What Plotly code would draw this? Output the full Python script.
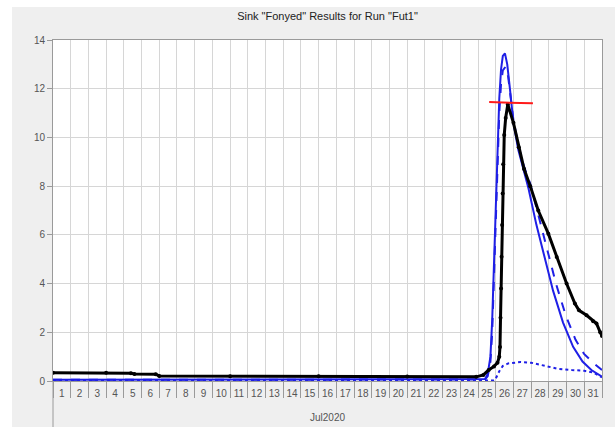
import pandas as pd
import plotly.graph_objects as go

START = pd.Timestamp("2020-07-01")

# Observed flow (days after 01Jul2020 00:00, flow)
obs_days = [0.0, 3.0, 4.4, 4.6, 5.8, 6.0, 10.0, 15.0, 20.0, 23.9, 24.3, 24.6, 24.9, 25.1,
            25.20, 25.24, 25.27, 25.30, 25.33, 25.36, 25.39, 25.42, 25.48, 25.56, 25.68,
            26.0, 26.3, 26.6, 26.95, 27.4, 27.97, 28.44, 29.0, 29.47, 29.7, 30.13, 30.5,
            30.69, 30.9, 31.0]
obs_flow = [0.34, 0.34, 0.32, 0.29, 0.28, 0.21, 0.20, 0.19, 0.18, 0.17, 0.25, 0.45, 0.60, 0.75,
            1.0, 1.4, 2.6, 3.8, 5.1, 6.4, 7.7, 8.9, 10.1, 10.8, 11.35,
            10.6, 9.6, 8.7, 8.0, 7.0, 6.05, 5.09, 4.0, 3.18, 2.9, 2.7, 2.45,
            2.36, 2.0, 1.85]

# Computed outflow
out_days = [0.0, 24.4, 24.55, 24.7, 24.8, 24.9, 25.0, 25.1, 25.2, 25.3, 25.4, 25.52,
            25.65, 25.8, 26.0, 26.27, 26.6, 26.85, 27.3, 27.77, 28.24, 28.8, 29.37,
            29.9, 30.4, 31.0]
out_flow = [0.05, 0.08, 0.3, 1.0, 2.5, 5.0, 7.5, 9.8, 11.6, 12.8, 13.35, 13.45,
            13.0, 12.0, 10.6, 9.5, 8.6, 7.9, 6.4, 5.0, 3.7, 2.4, 1.4,
            0.8, 0.45, 0.18]

# Second computed outflow (dashed)
alt_days = [0.0, 24.4, 24.55, 24.7, 24.8, 24.9, 25.0, 25.1, 25.2, 25.3, 25.4, 25.55,
            25.7, 25.85, 26.0, 26.3, 26.6, 26.95, 27.45, 27.95, 28.4, 28.95, 29.5,
            30.0, 30.5, 31.0]
alt_flow = [0.05, 0.06, 0.2, 0.8, 2.0, 4.4, 6.9, 9.2, 11.0, 12.2, 12.75, 12.9,
            12.5, 11.6, 10.7, 9.6, 8.8, 8.1, 6.7, 5.35, 4.0, 2.7, 1.7,
            1.1, 0.75, 0.45]

# Baseflow (dotted)
base_days = [0.0, 24.9, 25.0, 25.2, 25.4, 25.7, 26.4, 27.0, 27.8, 28.5, 29.3, 30.0, 30.5, 31.0]
base_flow = [0.02, 0.02, 0.1, 0.4, 0.62, 0.72, 0.78, 0.75, 0.62, 0.5, 0.45, 0.42, 0.35, 0.15]

# Observed peak marker
peak_days = [24.63, 27.1]
peak_flow = [11.45, 11.4]

Y_TICKS = [0, 2, 4, 6, 8, 10, 12, 14]


def to_time(days):
    return [START + pd.Timedelta(days=d) for d in days]


BLUE = "#1f1fe6"
GRID = "#d6d6d6"
AXIS = "#9a9a9a"

fig = go.Figure()
fig.add_trace(go.Scatter(x=to_time(base_days), y=base_flow, mode="lines",
                         line=dict(color=BLUE, width=2, dash="dot")))
fig.add_trace(go.Scatter(x=to_time(alt_days), y=alt_flow, mode="lines",
                         line=dict(color=BLUE, width=2, dash="dash")))
fig.add_trace(go.Scatter(x=to_time(out_days), y=out_flow, mode="lines",
                         line=dict(color=BLUE, width=2)))
fig.add_trace(go.Scatter(x=to_time(obs_days), y=obs_flow, mode="lines+markers",
                         line=dict(color="black", width=3),
                         marker=dict(color="black", size=4)))
fig.add_trace(go.Scatter(x=to_time(peak_days), y=peak_flow, mode="lines",
                         line=dict(color="#ff1a1a", width=2)))

fig.update_layout(
    width=615, height=427,
    margin=dict(l=53, r=13, t=40, b=46),
    paper_bgcolor="#efefef",
    plot_bgcolor="white",
    showlegend=False,
    font=dict(family="Liberation Sans, Arial, sans-serif", size=10, color="#555555"),
    title=dict(text='Sink "Fonyed" Results for Run "Fut1"',
               x=0.5, xref="paper", y=1 - 16 / 427, yref="container",
               yanchor="middle", font=dict(size=11, color="#222222")),
)

fig.update_xaxes(
    type="date",
    range=[START, START + pd.Timedelta(days=31)],
    tick0=START, dtick=86400000,
    tickformat="%-d", ticklabelmode="period",
    ticks="outside", ticklen=16, tickcolor=AXIS, ticklabelstandoff=-13,
    showgrid=True, gridcolor=GRID, gridwidth=1,
    showline=True, linecolor=AXIS, mirror=True,
    tickfont=dict(size=10, color="#555555"),
)
fig.update_yaxes(
    range=[0, 14], tickvals=Y_TICKS,
    ticks="outside", ticklen=5, tickcolor=AXIS,
    showgrid=True, gridcolor=GRID, gridwidth=1, zeroline=False,
    showline=True, linecolor=AXIS, mirror=True,
    tickfont=dict(size=10, color="#555555"),
)

# outer white frame on the left and top of the grey panel
fig.add_shape(type="rect", xref="paper", yref="paper", layer="below",
              x0=-53 / 549, x1=-41 / 549, y0=-46 / 341, y1=(341 + 40) / 341,
              fillcolor="white", line_width=0)
fig.add_shape(type="rect", xref="paper", yref="paper", layer="below",
              x0=-53 / 549, x1=(549 + 13) / 549, y0=(341 + 33) / 341, y1=(341 + 40) / 341,
              fillcolor="white", line_width=0)
# month boundary tick
fig.add_shape(type="line", xref="paper", yref="paper",
              x0=0, x1=0, y0=0, y1=-46 / 341, line=dict(color=AXIS, width=1))
fig.add_annotation(text="Jul2020", xref="paper", yref="paper", x=0.5, y=-37 / 341,
                   yanchor="middle", showarrow=False, font=dict(size=10, color="#555555"))

fig.write_html("out.html")
